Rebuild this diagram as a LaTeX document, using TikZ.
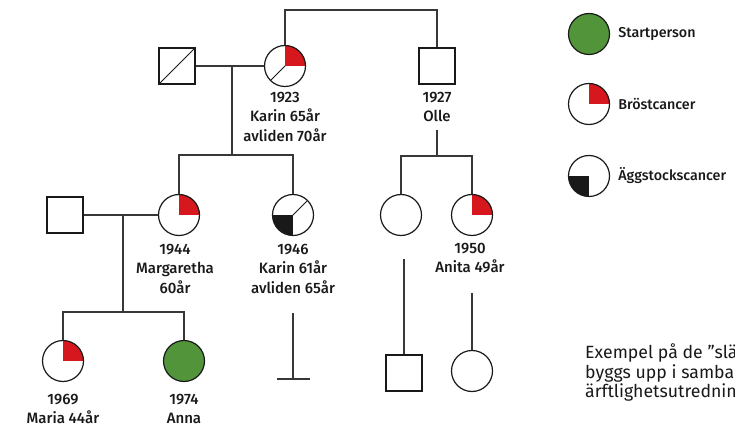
\documentclass[tikz,border=0pt]{standalone}
\usepackage{fontspec}
\setmainfont{Fira Sans}[UprightFont={* Medium}]
\newfontfamily\captionfont{Fira Sans}
\usepackage{tikz}
\usetikzlibrary{positioning}

\definecolor{brred}{RGB}{214,24,30}
\definecolor{stgreen}{RGB}{82,148,58}
\definecolor{linegray}{RGB}{55,55,55}

\tikzset{
  person/.style={draw=black!90, line width=1.2pt, fill=white, inner sep=0pt},
  female/.style={person, circle, minimum size=41pt},
  male/.style={person, rectangle, minimum size=36pt},
  startp/.style={female, fill=stgreen},
  brca/.style={path picture={
      \fill[brred] (path picture bounding box.center) rectangle (path picture bounding box.north east);}},
  ovca/.style={path picture={
      \fill[black!90] (path picture bounding box.center) rectangle (path picture bounding box.south west);}},
  dead/.style={path picture={
      \draw[line width=0.9pt] (path picture bounding box.south west) -- (path picture bounding box.north east);}},
  brcadead/.style={path picture={
      \draw[line width=0.9pt] (path picture bounding box.south west) -- (path picture bounding box.north east);
      \fill[brred] (path picture bounding box.center) rectangle (path picture bounding box.north east);}},
  ovcadead/.style={path picture={
      \draw[line width=0.9pt] (path picture bounding box.south west) -- (path picture bounding box.north east);
      \fill[black!90] (path picture bounding box.center) rectangle (path picture bounding box.south west);}},
  info/.style={align=center, font=\fontsize{15}{19.5}\selectfont, inner sep=0pt, text=black!90},
  legtext/.style={anchor=west, font=\fontsize{14.3}{19.5}\selectfont, inner sep=0pt, text=black!90},
  link/.style={draw=linegray, line width=1.3pt}
}

\begin{document}
\begin{tikzpicture}[x=1pt, y=-1pt]
  \clip (0,0) rectangle (735,427);
  \useasboundingbox (0,0) rectangle (735,427);

  % first generation
  \node[male, dead]      (gf)   at (177,66)  {};
  \node[female, brcadead] (gm)  at (285,66)  {};
  \node[male]            (olle) at (437,66)  {};
  \node[info, anchor=north] (gmtxt)   at (285,92) {1923\\Karin 65år\\avliden 70år};
  \node[info, anchor=north] (olletxt) at (437,92) {1927\\Olle};

  % second generation
  \node[male]             (mhus)   at (65,215)  {};
  \node[female, brca]     (marg)   at (179,215) {};
  \node[female, ovcadead] (karin2) at (293,215) {};
  \node[female]           (osis)   at (401,215) {};
  \node[female, brca]     (anita)  at (472,215) {};
  \node[info, anchor=north] (margtxt)   at (175,244) {1944\\Margaretha\\60år};
  \node[info, anchor=north] (karin2txt) at (293,244) {1946\\Karin 61år\\avliden 65år};
  \node[info, anchor=north] (anitatxt)  at (470,243) {1950\\Anita 49år};

  % third generation
  \node[female, brca] (maria) at (63,361)  {};
  \node[startp]       (anna)  at (184,361) {};
  \node[male]         (oson)  at (404,373) {};
  \node[female]       (odau)  at (472,371) {};
  \node[info, anchor=north] (mariatxt) at (63,394)  {1969\\Maria 44år};
  \node[info, anchor=north] (annatxt)  at (184,394) {1974\\Anna};

  \coordinate (top)  at (360,10);
  \coordinate (m1)   at (232,66);
  \coordinate (c1)   at (232,155);
  \coordinate (o1)   at (437,130);
  \coordinate (o2)   at (437,156);
  \coordinate (m2)   at (123,215);
  \coordinate (c2)   at (123,312);
  \coordinate (k1)   at (293,313);
  \coordinate (k2)   at (293,379);
  \coordinate (kl)   at (277,379);
  \coordinate (kr)   at (310,379);
  \coordinate (s1)   at (404,259);
  \coordinate (a1)   at (472,293);

  \draw[link] (gm.north) |- (top) -| (olle.north);
  \draw[link] (gf) -- (gm);
  \draw[link] (m1) -- (c1);
  \draw[link] (marg.north) |- (c1) -| (karin2.north);
  \draw[link] (o1) -- (o2);
  \draw[link] (osis.north) |- (o2) -| (anita.north);
  \draw[link] (mhus) -- (marg);
  \draw[link] (m2) -- (c2);
  \draw[link] (maria.north) |- (c2) -| (anna.north);
  \draw[link] (k1) -- (k2);
  \draw[link] (kl) -- (kr);
  \draw[link] (s1) -- (oson.north);
  \draw[link] (a1) -- (odau.north);

  % legend
  \node[startp]         (lstart) at (589,34)  {};
  \node[female, brca]   (lbrca)  at (589,104) {};
  \node[female, ovca]   (lovca)  at (589,176) {};
  \node[legtext, right=8pt of lstart] (lstarttxt) {Startperson};
  \node[legtext, right=8pt of lbrca]  (lbrcatxt)  {Bröstcancer};
  \node[legtext, right=8pt of lovca]  (lovcatxt)  {Äggstockscancer};

  \node[anchor=north west, align=left, inner sep=0pt, text=black!90,
        font=\captionfont\fontsize{17.7}{19.5}\selectfont] (caption) at (585,344)
    {Exempel på de ”släktträd” som\\byggs upp i samband med\\ärftlighetsutredning.};
\end{tikzpicture}
\end{document}
